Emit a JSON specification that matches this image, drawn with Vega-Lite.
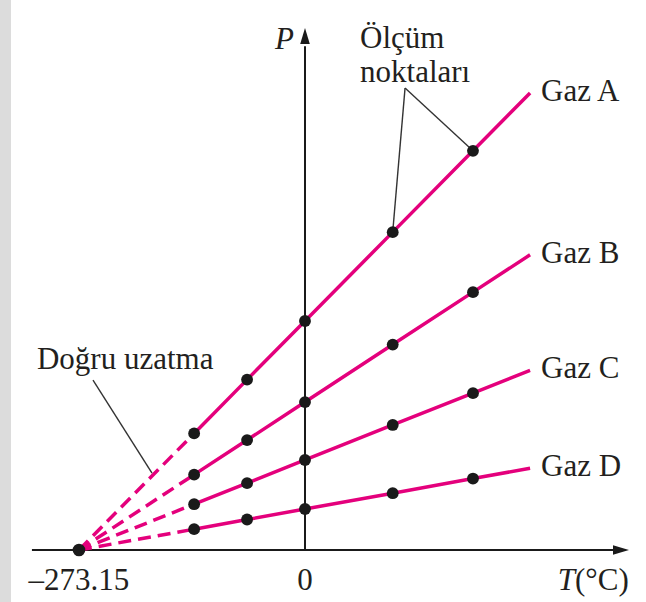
{
  "$schema": "https://vega.github.io/schema/vega-lite/v6.json",
  "width": 635,
  "height": 602,
  "autosize": {"type": "none"},
  "padding": {"left": 11, "top": 0, "right": 0, "bottom": 0},
  "background": "#dcdcdc",
  "config": {
    "view": {"stroke": null, "fill": "#ffffff"},
    "text": {"font": "Liberation Serif", "fontSize": 31, "color": "#231f20", "baseline": "alphabetic"}
  },
  "datasets": {
    "gazlar": [
      {"gaz": "Gaz A", "T": -273.15, "P": 0, "tur": "uzatma"},
      {"gaz": "Gaz A", "T": -134, "P": 50.9, "tur": "olcum"},
      {"gaz": "Gaz A", "T": -70, "P": 74.4, "tur": "olcum"},
      {"gaz": "Gaz A", "T": 0, "P": 100, "tur": "olcum"},
      {"gaz": "Gaz A", "T": 106, "P": 138.8, "tur": "olcum"},
      {"gaz": "Gaz A", "T": 203, "P": 174.3, "tur": "olcum"},
      {"gaz": "Gaz A", "T": 272, "P": 199.6, "tur": "uc"},
      {"gaz": "Gaz B", "T": -273.15, "P": 0, "tur": "uzatma"},
      {"gaz": "Gaz B", "T": -134, "P": 32.9, "tur": "olcum"},
      {"gaz": "Gaz B", "T": -70, "P": 48.0, "tur": "olcum"},
      {"gaz": "Gaz B", "T": 0, "P": 64.6, "tur": "olcum"},
      {"gaz": "Gaz B", "T": 106, "P": 89.7, "tur": "olcum"},
      {"gaz": "Gaz B", "T": 203, "P": 112.6, "tur": "olcum"},
      {"gaz": "Gaz B", "T": 272, "P": 128.9, "tur": "uc"},
      {"gaz": "Gaz C", "T": -273.15, "P": 0, "tur": "uzatma"},
      {"gaz": "Gaz C", "T": -134, "P": 20.0, "tur": "olcum"},
      {"gaz": "Gaz C", "T": -70, "P": 29.2, "tur": "olcum"},
      {"gaz": "Gaz C", "T": 0, "P": 39.3, "tur": "olcum"},
      {"gaz": "Gaz C", "T": 106, "P": 54.6, "tur": "olcum"},
      {"gaz": "Gaz C", "T": 203, "P": 68.5, "tur": "olcum"},
      {"gaz": "Gaz C", "T": 272, "P": 78.4, "tur": "uc"},
      {"gaz": "Gaz D", "T": -273.15, "P": 0, "tur": "uzatma"},
      {"gaz": "Gaz D", "T": -134, "P": 9.1, "tur": "olcum"},
      {"gaz": "Gaz D", "T": -70, "P": 13.3, "tur": "olcum"},
      {"gaz": "Gaz D", "T": 0, "P": 17.9, "tur": "olcum"},
      {"gaz": "Gaz D", "T": 106, "P": 24.8, "tur": "olcum"},
      {"gaz": "Gaz D", "T": 203, "P": 31.2, "tur": "olcum"},
      {"gaz": "Gaz D", "T": 272, "P": 35.7, "tur": "uc"}
    ],
    "eksenler": [
      {"T": -330, "P": 0, "T2": 376, "P2": 0},
      {"T": 0, "P": 0, "T2": 0, "P2": 220}
    ],
    "kilavuzlar": [
      {"T": 120.9, "P": 201.7, "T2": 106, "P2": 138.8},
      {"T": 120.9, "P": 201.7, "T2": 203, "P2": 174.3},
      {"T": -256.2, "P": 74.2, "T2": -184.9, "P2": 33.6}
    ],
    "eksen_etiketleri": [
      {"metin": "–273.15", "T": -273.15, "P": 0},
      {"metin": "0", "T": 0, "P": 0}
    ],
    "notlar": [
      {"metin": "Ölçüm", "T": 66.5, "P": 219.2},
      {"metin": "noktaları", "T": 66.5, "P": 204.4},
      {"metin": "Doğru uzatma", "T": -323.9, "P": 79.0}
    ]
  },
  "encoding": {
    "x": {"field": "T", "type": "quantitative", "scale": {"domain": [-355.3, 412.1], "nice": false, "zero": false}, "axis": null},
    "y": {"field": "P", "type": "quantitative", "scale": {"domain": [-22.71, 240.17], "nice": false, "zero": false}, "axis": null}
  },
  "layer": [
    {
      "data": {"name": "eksenler"},
      "mark": {"type": "rule", "stroke": "#1a1a1a", "strokeWidth": 2},
      "encoding": {"x2": {"field": "T2"}, "y2": {"field": "P2"}}
    },
    {
      "data": {"values": [{"T": 381.9, "P": 0}]},
      "mark": {"type": "point", "shape": "M1,0L-1,-0.6L-1,0.6Z", "filled": true, "size": 256, "color": "#1a1a1a", "opacity": 1}
    },
    {
      "data": {"values": [{"T": 0, "P": 224.5}]},
      "mark": {"type": "point", "shape": "M0,-1L-0.6,1L0.6,1Z", "filled": true, "size": 256, "color": "#1a1a1a", "opacity": 1}
    },
    {
      "data": {"name": "kilavuzlar"},
      "mark": {"type": "rule", "stroke": "#333333", "strokeWidth": 1.4},
      "encoding": {"x2": {"field": "T2"}, "y2": {"field": "P2"}}
    },
    {
      "data": {"name": "gazlar"},
      "transform": [{"filter": "datum.T <= -134"}],
      "mark": {"type": "line", "stroke": "#e4007c", "strokeWidth": 3.5, "strokeDash": [13, 7]},
      "encoding": {"detail": {"field": "gaz"}, "order": {"field": "T"}}
    },
    {
      "data": {"name": "gazlar"},
      "transform": [{"filter": "datum.T >= -134"}],
      "mark": {"type": "line", "stroke": "#e4007c", "strokeWidth": 3.5},
      "encoding": {"detail": {"field": "gaz"}, "order": {"field": "T"}}
    },
    {
      "data": {"name": "gazlar"},
      "transform": [{"filter": "datum.tur === 'olcum'"}],
      "mark": {"type": "point", "filled": true, "size": 140, "color": "#1a1a1a", "opacity": 1}
    },
    {
      "data": {"values": [{"T": -273.15, "P": 0}]},
      "mark": {"type": "point", "filled": true, "size": 160, "color": "#1a1a1a", "opacity": 1}
    },
    {
      "data": {"name": "gazlar"},
      "transform": [{"filter": "datum.tur === 'uc'"}],
      "mark": {"type": "text", "align": "left", "dx": 11, "dy": 8},
      "encoding": {"text": {"field": "gaz"}}
    },
    {
      "data": {"name": "eksen_etiketleri"},
      "mark": {"type": "text", "align": "center", "dy": 40},
      "encoding": {"text": {"field": "metin"}}
    },
    {
      "data": {"values": [{"metin": "P", "T": -13.3, "P": 218.8}]},
      "mark": {"type": "text", "align": "right", "fontStyle": "italic"},
      "encoding": {"text": {"field": "metin"}}
    },
    {
      "data": {"values": [{"metin": "T", "T": 326.3, "P": -17.5}]},
      "mark": {"type": "text", "align": "right", "fontStyle": "italic"},
      "encoding": {"text": {"field": "metin"}}
    },
    {
      "data": {"values": [{"metin": "(°C)", "T": 326.3, "P": -17.5}]},
      "mark": {"type": "text", "align": "left"},
      "encoding": {"text": {"field": "metin"}}
    },
    {
      "data": {"name": "notlar"},
      "mark": {"type": "text", "align": "left"},
      "encoding": {"text": {"field": "metin"}}
    }
  ]
}
